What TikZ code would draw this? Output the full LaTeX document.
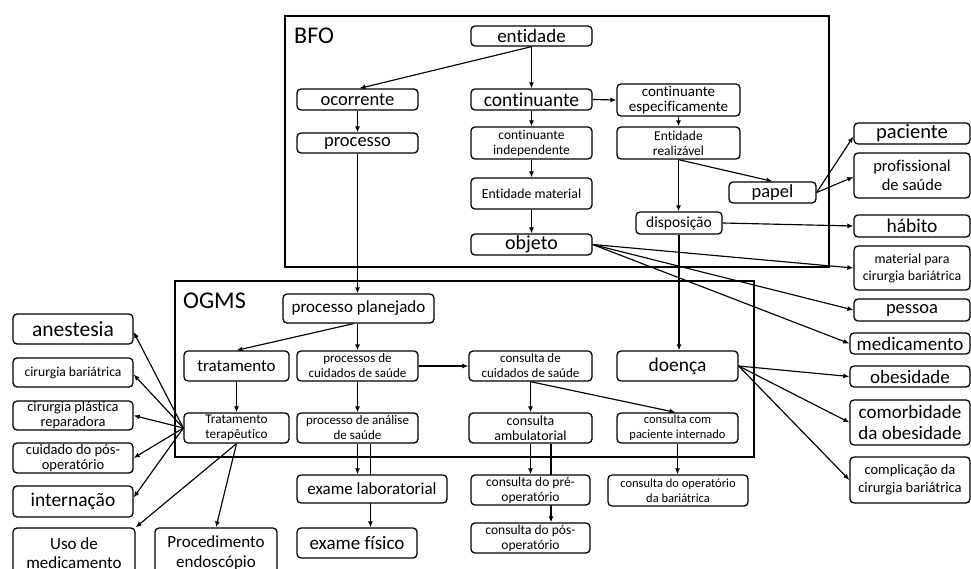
\documentclass[tikz,border=0pt]{standalone}
\usepackage{fontspec}
\setmainfont{Carlito}[Ligatures=NoCommon]
\usetikzlibrary{arrows.meta,backgrounds}
\tikzset{
  bx/.style={draw, rounded corners=4pt, line width=1.3pt, fill=white, inner sep=0pt, align=center},
  fs/.style args={#1/#2}{font=\fontsize{#1}{#2}\selectfont},
  con/.style={line width=1.15pt, -{Latex[length=6pt,width=5pt]}},
  frame/.style={line width=2.5pt},
  lbl/.style={anchor=base west, inner sep=0pt, font=\fontsize{24}{24}\selectfont}
}
\begin{document}
\begin{tikzpicture}[x=1pt,y=-1pt]
\useasboundingbox (0,0) rectangle (971,569);
\clip (0,0) rectangle (971,569);
% frames
\draw[frame] (285,16) rectangle (829,267);
\draw[frame] (175,281) rectangle (754,457);
\node[lbl] (bfo) at (294,44) {BFO};
\node[lbl] (ogms) at (183,308) {OGMS};
% BFO nodes
\node[bx, minimum width=121, minimum height=20, fs=19/21] (entidade) at (531.5,36) {entidade};
\node[bx, minimum width=121, minimum height=21, fs=18.5/20] (ocorrente) at (357.5,99.5) {ocorrente};
\node[bx, minimum width=121, minimum height=20, fs=18.5/20] (processo) at (357.5,143) {processo};
\node[bx, minimum width=121, minimum height=21, fs=19.5/21] (continuante) at (531.5,99.5) {continuante};
\node[bx, minimum width=121, minimum height=32, fs=13.5/15] (contind) at (531.5,143) {continuante\\independente};
\node[bx, minimum width=121, minimum height=31, fs=13.8/15] (entmat) at (531.5,193.5) {Entidade material};
\node[bx, minimum width=121, minimum height=21, fs=20/21] (objeto) at (531.5,244.5) {objeto};
\node[bx, minimum width=123, minimum height=32, fs=15/15.5] (contesp) at (678.5,100) {continuante\\especificamente};
\node[bx, minimum width=123, minimum height=32, fs=13.5/15] (entreal) at (678.5,143) {Entidade\\realizável};
\node[bx, minimum width=87, minimum height=21, fs=18.5/20] (papel) at (772.5,192.5) {papel};
\node[bx, minimum width=86, minimum height=22, fs=15.5/16] (disp) at (679,223) {disposição};
% right column
\node[bx, minimum width=116, minimum height=21, fs=20.5/21] (paciente) at (912,133.5) {paciente};
\node[bx, minimum width=116, minimum height=45, fs=16.5/19] (prof) at (912,175.5) {profissional\\de saúde};
\node[bx, minimum width=116, minimum height=22, fs=19.5/21] (habito) at (912,226) {hábito};
\node[bx, minimum width=116, minimum height=44, fs=13.8/17] (material) at (912,268) {material para\\cirurgia bariátrica};
\node[bx, minimum width=116, minimum height=22, fs=18.5/20] (pessoa) at (912,310) {pessoa};
\node[bx, minimum width=120, minimum height=21, fs=19/21] (medicamento) at (910,343.5) {medicamento};
\node[bx, minimum width=120, minimum height=21, fs=19/21] (obesidade) at (910,376.5) {obesidade};
\node[bx, minimum width=120, minimum height=45, fs=19/20.5] (comorb) at (910,422.5) {comorbidade\\da obesidade};
\node[bx, minimum width=120, minimum height=46, fs=14.5/18] (complic) at (910,480) {complicação da\\cirurgia bariátrica};
% OGMS nodes
\node[bx, minimum width=151, minimum height=29, fs=17/18] (pp) at (358.5,308.5) {processo planejado};
\node[bx, minimum width=105, minimum height=30, fs=17/18] (trat) at (236.5,366) {tratamento};
\node[bx, minimum width=105, minimum height=30, fs=13.3/15] (tt) at (236.5,428) {Tratamento\\terapêutico};
\node[bx, minimum width=121, minimum height=30, fs=13/15] (pcs) at (357.5,366) {processos de\\cuidados de saúde};
\node[bx, minimum width=121, minimum height=30, fs=13/15] (pas) at (357.5,428) {processo de análise\\de saúde};
\node[bx, minimum width=123, minimum height=30, fs=13/15] (ccs) at (530.5,366) {consulta de\\cuidados de saúde};
\node[bx, minimum width=123, minimum height=30, fs=14/15.5] (ca) at (530.5,428) {consulta\\ambulatorial};
\node[bx, minimum width=121, minimum height=30, fs=19.5/21] (doenca) at (677.5,366) {doença};
\node[bx, minimum width=121, minimum height=30, fs=12.5/15] (cpi) at (677.5,428) {consulta com\\paciente internado};
% below OGMS
\node[bx, minimum width=150, minimum height=28, fs=17/18] (el) at (372,489) {exame laboratorial};
\node[bx, minimum width=120, minimum height=30, fs=19/20] (ef) at (357,543) {exame físico};
\node[bx, minimum width=119, minimum height=30, fs=13.5/15] (cpre) at (530.5,490) {consulta do pré-\\operatório};
\node[bx, minimum width=119, minimum height=30, fs=13.5/15] (cpos) at (530.5,538) {consulta do pós-\\operatório};
\node[bx, minimum width=140, minimum height=31, fs=12.5/15] (cob) at (678,490.5) {consulta do operatório\\da bariátrica};
% left column
\node[bx, minimum width=120, minimum height=30, fs=21.5/22] (anest) at (73,329) {anestesia};
\node[bx, minimum width=120, minimum height=29, fs=13.6/15] (cb) at (73,372.5) {cirurgia bariátrica};
\node[bx, minimum width=120, minimum height=29, fs=14.4/15] (cpr) at (73,415.5) {cirurgia plástica\\reparadora};
\node[bx, minimum width=120, minimum height=30, fs=14.5/15.5] (cuid) at (73,458) {cuidado do pós-\\operatório};
\node[bx, minimum width=120, minimum height=31, fs=19.5/21] (intern) at (73,501.5) {internação};
\node[bx, minimum width=122, minimum height=50, fs=17/19.5] (uso) at (74,553) {Uso de\\medicamento};
\node[bx, minimum width=122, minimum height=50, fs=17/19.5] (proc) at (216,553) {Procedimento\\endoscópio};
% connectors
\begin{pgfonlayer}{background}
\draw[con] (entidade.south) -- ([xshift=2pt]ocorrente.north);
\draw[con] (entidade.south) -- (continuante.north);
\draw[con] (ocorrente.south) -- (processo.north);
\draw[con] (processo.south) -- (processo.south |- pp.north);
\draw[con] (continuante.east) -- (contesp.west);
\draw[con] (continuante.south) -- (contind.north);
\draw[con] (contind.south) -- (entmat.north);
\draw[con] (entmat.south) -- (objeto.north);
\draw[con] (contesp.south) -- (entreal.north);
\draw[con] (entreal.south) -- (papel.north);
\draw[con] (entreal.south) -- (entreal.south |- disp.north);
\draw[con] (papel.east) -- ([yshift=-3pt]paciente.west);
\draw[con] (papel.east) -- ([yshift=-1.5pt]prof.west);
\draw[con] (disp.east) -- (habito.west);
\draw[con] (disp.south) -- (disp.south |- doenca.north);
\draw[con] (objeto.east) -- (material.west);
\draw[con] (objeto.east) -- (pessoa.west);
\draw[con] (objeto.east) -- (medicamento.west);
\draw[con] ([xshift=-5pt]pp.south) -- (trat.north);
\draw[con] (pcs.north |- pp.south) -- (pcs.north);
\draw[con] (trat.south) -- (tt.north);
\draw[con] (pcs.east) -- (ccs.west);
\draw[con] (pcs.south) -- (pas.north);
\draw[con] (pas.south) -- (pas.south |- el.north);
\draw[con] ([xshift=13pt]pas.south) -- ([xshift=13pt]pas.south |- ef.north);
\draw[con] (ccs.south) -- (ca.north);
\draw[con] (ccs.south) -- ([xshift=-2pt]cpi.north);
\draw[con] (ca.south) -- (cpre.north);
\draw[con] ([xshift=20.5pt]ca.south) -- ([xshift=20.5pt]ca.south |- cpos.north);
\draw[con] (cpi.south) -- (cpi.south |- cob.north);
\draw[con] (doenca.east) -- (obesidade.west);
\draw[con] (doenca.east) -- (comorb.west);
\draw[con] (doenca.east) -- (complic.west);
\draw[con] (tt.west) -- ([yshift=-3pt]anest.east);
\draw[con] (tt.west) -- ([yshift=-2pt]cb.east);
\draw[con] (tt.west) -- (cpr.east);
\draw[con] (tt.west) -- (cuid.east);
\draw[con] (tt.west) -- ([yshift=4pt]intern.east);
\draw[con] (tt.south) -- (uso.north east);
\draw[con] (tt.south) -- (proc.north);
\end{pgfonlayer}
\end{tikzpicture}
\end{document}
